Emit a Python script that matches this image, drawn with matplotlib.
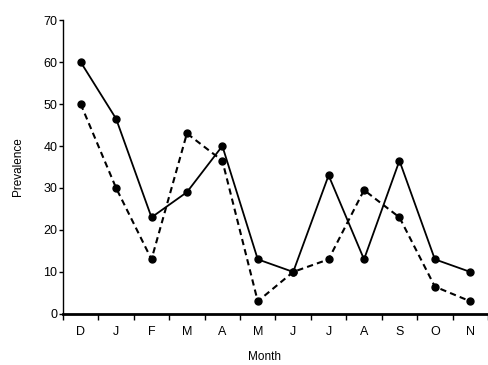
import matplotlib
matplotlib.use("Agg")
import matplotlib.pyplot as plt
import numpy as np

months = ["D", "J", "F", "M", "A", "M", "J", "J", "A", "S", "O", "N"]
series_solid = [60, 46.5, 23, 29, 40, 13, 10, 33, 13, 36.5, 13, 10]
series_dashed = [50, 30, 13, 43, 36.5, 3, 10, 13, 29.5, 23, 6.5, 3]
y_ticks = [0, 10, 20, 30, 40, 50, 60, 70]

plt.rcParams['font.family'] = ['Liberation Sans', 'DejaVu Sans']
fig = plt.figure(figsize=(4.88, 3.65), dpi=100)
ax = fig.add_axes([0.129, 0.140, 0.871, 0.805])
x = np.arange(len(months))
ax.plot(x, series_solid, '-', color='black', lw=1.3, marker='o', ms=5)
ax.plot(x, series_dashed, '--', color='black', lw=1.5, marker='o', ms=5, dashes=(3, 2))
ax.set_xlim(-0.5, 11.5)
ax.set_ylim(0, 70)
ax.set_yticks(y_ticks)
ax.set_yticklabels([str(v) for v in y_ticks], fontsize=9)
ax.set_xticks(x)
ax.set_xticklabels(months, fontsize=9)
ax.tick_params(axis='x', which='major', length=0, pad=9)
ax.set_xticks(np.arange(-0.5, 12, 1), minor=True)
ax.tick_params(axis='x', which='minor', length=4, direction='out', width=1)
ax.tick_params(axis='y', length=3, width=1, pad=1)
for s in ['top', 'right']:
    ax.spines[s].set_visible(False)
ax.spines['bottom'].set_linewidth(2)
ax.spines['left'].set_linewidth(1)
ax.set_ylabel('Prevalence', fontsize=8.5, labelpad=14)
ax.set_xlabel('Month', fontsize=8.5)
ax.xaxis.set_label_coords(0.475, -0.125)
fig.savefig('out.png', dpi=100)
